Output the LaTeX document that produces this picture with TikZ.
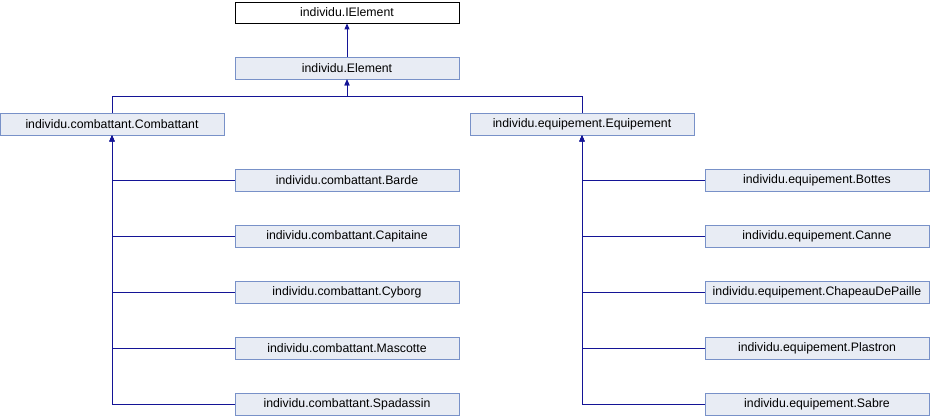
\documentclass[tikz,border=0pt]{standalone}
\usepackage{fontspec}
\setmainfont{Liberation Sans}
\usetikzlibrary{arrows.meta,positioning}
\definecolor{dxnavy}{RGB}{20,20,150}
\definecolor{dxborder}{RGB}{120,145,200}
\definecolor{dxfill}{RGB}{232,236,244}
\tikzset{
  dxcls/.style={draw=dxborder, fill=dxfill, line width=.8pt, minimum width=224pt, minimum height=22pt, inner sep=0pt},
  dxroot/.style={draw=black, fill=white, line width=.8pt, minimum width=224pt, minimum height=21pt, inner sep=0pt},
  dxinh/.style={-{Triangle[length=6pt,width=5pt]}, draw=dxnavy, line width=.9pt}
}

\begin{document}
\begin{tikzpicture}[x=1pt, y=-1pt, font=\fontsize{12.3}{14}\selectfont, node distance=33.2pt]
  \useasboundingbox (0,0) rectangle (930,416);
  \node[dxroot] (ielem) at (347,12.5) {individu.IElement};
  \node[dxcls] (elem) at (347,68) {individu.Element};
  \node[dxcls] (comb) at (112,124) {individu.combattant.Combattant};
  \node[dxcls] (equip) at (582,124) {individu.equipement.Equipement};
  \node[dxcls] (barde) at (347,180) {individu.combattant.Barde};
  \node[dxcls, below=of barde] (capit) {individu.combattant.Capitaine};
  \node[dxcls, below=of capit] (cyborg) {individu.combattant.Cyborg};
  \node[dxcls, below=of cyborg] (masc) {individu.combattant.Mascotte};
  \node[dxcls, below=of masc] (spad) {individu.combattant.Spadassin};
  \node[dxcls] (bottes) at (817,180) {individu.equipement.Bottes};
  \node[dxcls, below=of bottes] (canne) {individu.equipement.Canne};
  \node[dxcls, below=of canne] (chapeau) {individu.equipement.ChapeauDePaille};
  \node[dxcls, below=of chapeau] (plastron) {individu.equipement.Plastron};
  \node[dxcls, below=of plastron] (sabre) {individu.equipement.Sabre};
  \draw[dxinh] (elem) -- (ielem);
  \draw[dxinh] (comb.north) -- ++(0,-16) -| (elem.south);
  \draw[dxinh] (equip.north) -- ++(0,-16) -| (elem.south);
  \draw[dxinh] (barde.west) -| (comb.south);
  \draw[dxinh] (capit.west) -| (comb.south);
  \draw[dxinh] (cyborg.west) -| (comb.south);
  \draw[dxinh] (masc.west) -| (comb.south);
  \draw[dxinh] (spad.west) -| (comb.south);
  \draw[dxinh] (bottes.west) -| (equip.south);
  \draw[dxinh] (canne.west) -| (equip.south);
  \draw[dxinh] (chapeau.west) -| (equip.south);
  \draw[dxinh] (plastron.west) -| (equip.south);
  \draw[dxinh] (sabre.west) -| (equip.south);
\end{tikzpicture}
\end{document}
